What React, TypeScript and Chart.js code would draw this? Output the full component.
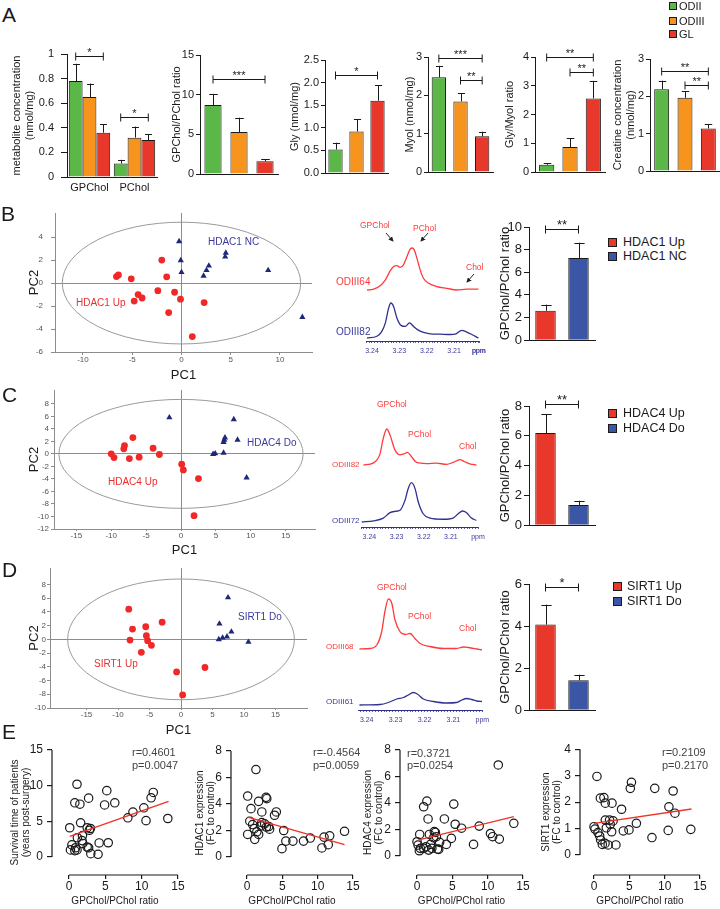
import React, { useEffect, useRef } from "react";
import { Chart, registerables } from "chart.js";

Chart.register(...registerables);

const SANS = "'Liberation Sans', Arial, Helvetica, sans-serif";
const NARROW = "'Liberation Sans Narrow', 'Arial Narrow', 'Liberation Sans', Arial, sans-serif";
const INK = "#1a1a1a";
const GREEN = "#5bb848";
const ORANGE = "#f7941d";
const RED = "#e8382b";
const BLUE = "#3b56a5";
const DOT_RED = "#f02828";
const TRI_NAVY = "#1f2878";
const LBL_RED = "#ee2d2d";
const LBL_BLUE = "#3a3a9e";
const SPEC_RED = "#ff3a3a";
const SPEC_BLUE = "#30308f";
const AXIS_GRAY = "#8c8c8c";
const FIT_RED = "#ee3328";

Chart.defaults.font.family = SANS;

// ---------------- Panel A data ----------------
const gradeNames = ["ODII", "ODIII", "GL"];
const gradeColors = [GREEN, ORANGE, RED];
const metaboliteCats = ["GPChol", "PChol"];
const metaboliteODII = [0.78, 0.11];
const metaboliteODIII = [0.65, 0.32];
const metaboliteGL = [0.36, 0.3];
const metaboliteODIIErr = [0.14, 0.03];
const metaboliteODIIIErr = [0.11, 0.09];
const metaboliteGLErr = [0.07, 0.05];
const metaboliteTicks = [0, 0.2, 0.4, 0.6, 0.8, 1];

const ratioByGrade = [8.7, 5.3, 1.6];
const ratioByGradeErr = [1.4, 1.8, 0.25];
const ratioTicks = [0, 5, 10, 15];

const glyByGrade = [0.52, 0.92, 1.6];
const glyByGradeErr = [0.15, 0.27, 0.34];
const glyTicks = [0, 0.5, 1, 1.5, 2, 2.5];

const myolByGrade = [2.47, 1.84, 0.93];
const myolByGradeErr = [0.3, 0.21, 0.12];
const myolTicks = [0, 1, 2, 3];

const glyMyolByGrade = [0.25, 0.87, 2.56];
const glyMyolByGradeErr = [0.06, 0.31, 0.61];
const glyMyolTicks = [0, 1, 2, 3, 4];

const creatineByGrade = [2.19, 1.96, 1.14];
const creatineByGradeErr = [0.23, 0.17, 0.12];
const creatineTicks = [0, 1, 2, 3];

// significance brackets: [dataset, index] -> [dataset, index] at value
const metaboliteSig = [
  { from: [0, 0], to: [2, 0], at: 0.98, mark: "*" },
  { from: [0, 1], to: [2, 1], at: 0.49, mark: "*" },
];
const ratioSig = [{ from: [0, 0], to: [0, 2], at: 12.0, mark: "***" }];
const glySig = [{ from: [0, 0], to: [0, 2], at: 2.17, mark: "*" }];
const myolSig = [
  { from: [0, 0], to: [0, 2], at: 2.98, mark: "***" },
  { from: [0, 1], to: [0, 2], at: 2.39, mark: "**" },
];
const glyMyolSig = [
  { from: [0, 0], to: [0, 2], at: 4.0, mark: "**" },
  { from: [0, 1], to: [0, 2], at: 3.48, mark: "**" },
];
const creatineSig = [
  { from: [0, 0], to: [0, 2], at: 2.69, mark: "**" },
  { from: [0, 1], to: [0, 2], at: 2.3, mark: "**" },
];

// ---------------- Panels B-D data ----------------
const hdac1Groups = ["HDAC1 Up", "HDAC1 NC"];
const hdac1Ratio = [2.6, 7.26];
const hdac1RatioErr = [0.54, 1.36];
const hdac1Ticks = [0, 2, 4, 6, 8, 10];
const hdac1Sig = [{ from: [0, 0], to: [0, 1], at: 9.8, mark: "**" }];

const hdac4Groups = ["HDAC4 Up", "HDAC4 Do"];
const hdac4Ratio = [6.18, 1.36];
const hdac4RatioErr = [1.28, 0.28];
const hdac4Ticks = [0, 2, 4, 6, 8];
const hdac4Sig = [{ from: [0, 0], to: [0, 1], at: 8.15, mark: "**" }];

const sirt1Groups = ["SIRT1 Up", "SIRT1 Do"];
const sirt1Ratio = [4.07, 1.42];
const sirt1RatioErr = [0.95, 0.27];
const sirt1Ticks = [0, 2, 4, 6];
const sirt1Sig = [{ from: [0, 0], to: [0, 1], at: 5.85, mark: "*" }];

// PCA scores [PC1, PC2]
const hdac1UpScores = [[-6.6, 0.57], [-6.4, 0.71], [-5.1, 0.37], [-2.0, 2.0], [-1.5, 0.54], [-2.4, -0.66], [-4.4, -1.0], [-4.8, -1.57], [-4.0, -1.3], [-0.7, -0.8], [-0.1, -1.4], [-1.3, -2.57], [2.3, -1.7], [1.1, -4.66]];
const hdac1NcScores = [[-0.24, 3.63], [-0.07, 1.97], [0.0, 0.94], [2.24, 0.63], [2.54, 1.11], [2.78, 1.51], [4.5, 2.63], [4.44, 2.29], [8.8, 1.11], [12.27, -2.97]];
const hdac1Ellipse = [12.1, 5.3];
const pcaBxTicks = [-10, -5, 0, 5, 10];
const pcaByTicks = [-6, -4, -2, 0, 2, 4];

const hdac4UpScores = [[-10.0, 0.0], [-9.6, -0.6], [-8.1, 1.33], [-8.2, 0.8], [-6.9, 2.6], [-7.4, -0.75], [-6.0, -0.53], [-4.0, 0.9], [-3.1, -0.1], [0.1, -1.65], [0.33, -2.56], [2.5, -3.95], [1.87, -9.87]];
const hdac4DoScores = [[-1.67, 5.8], [7.56, 5.5], [6.3, 2.6], [6.2, 2.24], [6.1, 1.87], [8.1, 2.24], [4.6, -0.05], [4.9, 0.05], [6.1, 0.16], [9.4, -3.8]];
const hdac4Ellipse = [17.5, 8.7];
const pcaCxTicks = [-15, -10, -5, 0, 5, 10, 15];
const pcaCyTicks = [-12, -10, -8, -6, -4, -2, 0, 2, 4, 6, 8];

const sirt1UpScores = [[-8.3, 4.4], [-7.7, 1.5], [-8.1, -0.1], [-5.6, 1.84], [-5.5, 0.53], [-5.3, -0.19], [-4.7, -0.87], [-6.3, -1.89], [-3.0, 2.5], [-0.7, -4.74], [3.8, -4.1], [0.26, -8.1]];
const sirt1DoScores = [[7.46, 6.1], [6.1, 2.27], [8.0, 1.1], [6.0, 0.0], [6.6, 0.24], [7.3, 0.39], [10.7, -0.39]];
const sirt1Ellipse = [18.0, 8.8];
const pcaDxTicks = [-15, -10, -5, 0, 5, 10, 15];
const pcaDyTicks = [-10, -8, -6, -4, -2, 0, 2, 4, 6, 8];

// 1H spectra (ppm, relative intensity)
const ppmMajorTicks = [3.24, 3.23, 3.22, 3.21];
const odiii64Ppm = [3.2418, 3.2394, 3.237, 3.2351, 3.2333, 3.2321, 3.2309, 3.2297, 3.2285, 3.2272, 3.226, 3.2253, 3.2246, 3.2236, 3.2224, 3.2212, 3.2193, 3.2163, 3.2127, 3.209, 3.2054, 3.2029, 3.2011];
const odiii64Int = [0, 0.02, 0.1, 0.24, 0.46, 0.56, 0.58, 0.54, 0.6, 0.8, 0.98, 1.0, 0.96, 0.76, 0.48, 0.28, 0.16, 0.08, 0.04, 0.0, 0.02, 0.02, 0.02];
const odiii82bPpm = [3.2418, 3.2382, 3.2364, 3.2351, 3.2339, 3.2331, 3.2321, 3.2309, 3.2294, 3.2278, 3.2263, 3.2248, 3.2234, 3.2212, 3.2187, 3.2151, 3.2114, 3.2096, 3.2072, 3.2054, 3.2035, 3.2011];
const odiii82bInt = [0, 0.05, 0.19, 0.43, 0.86, 1.0, 0.9, 0.57, 0.36, 0.33, 0.43, 0.33, 0.24, 0.16, 0.12, 0.11, 0.1, 0.11, 0.22, 0.17, 0.1, 0.0];

const odiii82cPpm = [3.2422, 3.2385, 3.2361, 3.2349, 3.2336, 3.2324, 3.2306, 3.2287, 3.2273, 3.226, 3.2245, 3.2226, 3.2189, 3.2153, 3.2116, 3.2092, 3.2067, 3.2049, 3.203, 3.2006];
const odiii82cInt = [0, 0.06, 0.31, 0.74, 1.0, 0.83, 0.42, 0.28, 0.31, 0.35, 0.23, 0.07, 0.04, 0.05, 0.02, 0.07, 0.15, 0.09, 0.03, 0.0];
const odiii72Ppm = [3.2428, 3.2385, 3.2349, 3.2324, 3.2306, 3.2287, 3.2269, 3.2257, 3.2245, 3.2232, 3.222, 3.2202, 3.2177, 3.2128, 3.2092, 3.2073, 3.2057, 3.2043, 3.2024, 3.2006];
const odiii72Int = [0, 0.03, 0.1, 0.24, 0.27, 0.3, 0.55, 0.85, 1.0, 0.85, 0.51, 0.21, 0.1, 0.07, 0.1, 0.21, 0.28, 0.24, 0.1, 0.04];

const odiii68Ppm = [3.2425, 3.2388, 3.2365, 3.2348, 3.2337, 3.2325, 3.2313, 3.2302, 3.2285, 3.2267, 3.225, 3.2233, 3.2215, 3.2181, 3.2135, 3.2089, 3.2066, 3.2048, 3.2019, 3.2001];
const odiii68Int = [0, 0.01, 0.08, 0.35, 0.75, 1.0, 0.91, 0.58, 0.35, 0.29, 0.31, 0.21, 0.11, 0.05, 0.01, 0.01, 0.04, 0.03, 0.0, -0.02];
const odiii61Ppm = [3.2425, 3.2354, 3.2325, 3.2296, 3.2273, 3.2256, 3.2239, 3.2225, 3.2204, 3.2169, 3.2123, 3.2089, 3.2071, 3.2054, 3.2037, 3.2019, 3.2001];
const odiii61Int = [0, 0.01, 0.05, 0.12, 0.15, 0.2, 0.25, 0.22, 0.12, 0.07, 0.04, 0.05, 0.1, 0.13, 0.11, 0.08, 0.07];

// ---------------- Panel E data [GPChol/PChol ratio, y] ----------------
const corrXTicks = [0, 5, 10, 15];
const survivalPoints = [[1.1, 10.2], [0.8, 7.6], [1.5, 7.4], [2.7, 8.25], [5.2, 9.3], [4.9, 7.3], [6.3, 7.6], [1.6, 4.8], [0.1, 4.1], [2.5, 4.1], [2.8, 3.75], [2.95, 4.0], [1.15, 2.7], [1.85, 3.0], [1.8, 2.3], [1.9, 1.9], [0.4, 1.7], [0.9, 1.3], [0.2, 1.0], [0.8, 0.9], [1.1, 1.0], [2.5, 1.4], [2.7, 1.3], [3.0, 0.47], [4.0, 0.38], [4.15, 1.97], [5.4, 2.0], [8.1, 5.5], [8.8, 6.3], [10.3, 6.9], [10.6, 5.1], [11.3, 8.3], [11.6, 9.05], [13.6, 5.4]];
const survivalFit = [[0.1, 2.9], [13.7, 7.8]];
const survivalYTicks = [0, 5, 10, 15];

const hdac1ExprPoints = [[1.27, 6.6], [0.1, 4.6], [0.57, 3.65], [1.65, 4.2], [2.7, 4.5], [2.8, 4.4], [2.1, 3.4], [4.15, 3.4], [3.9, 3.15], [0.4, 2.7], [0.8, 2.45], [1.04, 2.14], [1.4, 1.9], [1.1, 1.33], [1.65, 1.7], [2.0, 2.35], [2.1, 2.6], [2.5, 2.5], [2.74, 2.26], [3.07, 2.3], [3.2, 2.1], [0.1, 1.7], [5.2, 2.0], [5.5, 1.2], [4.95, 0.63], [6.5, 1.2], [8.0, 1.2], [8.96, 1.43], [10.6, 0.68], [10.9, 1.5], [11.5, 0.93], [11.7, 1.6], [13.8, 1.94]];
const hdac1ExprFit = [[0.1, 3.0], [13.8, 0.93]];
const hdac1ExprYTicks = [0, 2, 4, 6, 8];

const hdac4ExprPoints = [[11.5, 6.87], [1.4, 4.15], [0.94, 3.72], [5.2, 3.92], [1.56, 2.8], [3.87, 2.8], [5.4, 2.4], [6.3, 2.1], [8.8, 2.26], [13.7, 2.47], [10.4, 1.7], [10.7, 1.46], [11.65, 1.28], [8.0, 0.88], [4.86, 1.33], [4.15, 0.88], [0.38, 1.63], [1.75, 1.63], [2.45, 1.84], [2.6, 1.78], [2.74, 1.46], [0.0, 1.08], [0.14, 0.83], [0.47, 0.58], [0.33, 0.4], [0.94, 0.58], [1.27, 0.7], [1.9, 0.88], [1.65, 0.45], [2.1, 0.58], [2.9, 0.53], [2.36, 1.38], [3.2, 1.03], [3.07, 0.5]];
const hdac4ExprFit = [[0.1, 1.2], [13.7, 2.97]];
const hdac4ExprYTicks = [0, 2, 4, 6, 8];

const sirt1ExprPoints = [[0.42, 2.97], [0.9, 2.15], [1.4, 2.17], [1.6, 1.96], [2.55, 1.96], [3.9, 1.73], [5.3, 2.75], [5.14, 2.52], [8.6, 2.52], [11.2, 2.42], [10.6, 1.82], [11.45, 1.58], [6.0, 1.2], [1.6, 1.32], [2.2, 1.32], [2.7, 1.29], [2.3, 1.16], [1.75, 1.03], [2.5, 0.88], [0.0, 1.07], [0.14, 0.98], [0.56, 0.85], [0.8, 0.72], [0.94, 0.57], [1.18, 0.4], [1.56, 0.44], [2.0, 0.38], [3.1, 0.38], [4.15, 0.91], [4.95, 0.95], [8.2, 0.66], [10.5, 0.93], [13.7, 0.97]];
const sirt1ExprFit = [[0.0, 1.2], [13.8, 1.74]];
const sirt1ExprYTicks = [0, 1, 2, 3, 4];

// ---------------- helpers ----------------
type Rect = { x: number; y: number; w: number; h: number };
type Area = { l: number; t: number; r: number; b: number };

function frame(c: Rect, a: Area) {
  return { left: a.l - c.x, top: a.t - c.y, right: c.x + c.w - a.r, bottom: c.y + c.h - a.b };
}

const baseOptions = {
  animation: false,
  responsive: false,
  maintainAspectRatio: false,
  events: [],
  plugins: { legend: { display: false }, tooltip: { enabled: false } },
};

const errorBarPlugin = {
  id: "errbars",
  afterDatasetsDraw(chart: any) {
    const ctx = chart.ctx;
    const ys = chart.scales.y;
    chart.data.datasets.forEach((ds: any, di: number) => {
      if (!ds.errUp) return;
      const meta = chart.getDatasetMeta(di);
      meta.data.forEach((bar: any, i: number) => {
        const top = ys.getPixelForValue(ds.data[i] + ds.errUp[i]);
        const x = Math.round(bar.x) + 0.5;
        const w = bar.width * 0.5;
        ctx.save();
        ctx.strokeStyle = INK;
        ctx.lineWidth = 1;
        ctx.beginPath();
        ctx.moveTo(x, bar.y);
        ctx.lineTo(x, top);
        ctx.moveTo(x - w / 2, Math.round(top) + 0.5);
        ctx.lineTo(x + w / 2, Math.round(top) + 0.5);
        ctx.stroke();
        ctx.restore();
      });
    });
  },
};

function sigPlugin(items: any[], size: number) {
  return {
    id: "sig",
    afterDatasetsDraw(chart: any) {
      const ctx = chart.ctx;
      const ys = chart.scales.y;
      ctx.save();
      ctx.strokeStyle = INK;
      ctx.fillStyle = INK;
      ctx.lineWidth = 1;
      ctx.font = `${size}px ${SANS}`;
      ctx.textAlign = "center";
      ctx.textBaseline = "alphabetic";
      for (const it of items) {
        const xa = chart.getDatasetMeta(it.from[0]).data[it.from[1]].x;
        const xb = chart.getDatasetMeta(it.to[0]).data[it.to[1]].x;
        const y = Math.round(ys.getPixelForValue(it.at)) + 0.5;
        ctx.beginPath();
        ctx.moveTo(xa, y);
        ctx.lineTo(xb, y);
        ctx.moveTo(xa, y - 4);
        ctx.lineTo(xa, y + 4);
        ctx.moveTo(xb, y - 4);
        ctx.lineTo(xb, y + 4);
        ctx.stroke();
        ctx.fillText(it.mark, (xa + xb) / 2, y - 1);
      }
      ctx.restore();
    },
  };
}

function ellipsePlugin(r: number[]) {
  return {
    id: "ellipse",
    beforeDatasetsDraw(chart: any) {
      const { x, y } = chart.scales;
      const ctx = chart.ctx;
      const cx = x.getPixelForValue(0);
      const cy = y.getPixelForValue(0);
      const rx = Math.abs(x.getPixelForValue(r[0]) - cx);
      const ry = Math.abs(y.getPixelForValue(r[1]) - cy);
      ctx.save();
      ctx.strokeStyle = "#9a9a9a";
      ctx.lineWidth = 1;
      ctx.beginPath();
      ctx.ellipse(cx, cy, rx, ry, 0, 0, Math.PI * 2);
      ctx.stroke();
      ctx.restore();
    },
  };
}

function offsetAxesPlugin(xt: number[], yt: number[]) {
  return {
    id: "offsetAxes",
    beforeDatasetsDraw(chart: any) {
      const { x, y } = chart.scales;
      const a = chart.chartArea;
      const ctx = chart.ctx;
      ctx.save();
      ctx.strokeStyle = INK;
      ctx.lineWidth = 1.2;
      ctx.beginPath();
      ctx.moveTo(x.getPixelForValue(xt[0]), a.bottom);
      ctx.lineTo(x.getPixelForValue(xt[xt.length - 1]), a.bottom);
      ctx.moveTo(a.left, y.getPixelForValue(yt[0]));
      ctx.lineTo(a.left, y.getPixelForValue(yt[yt.length - 1]));
      ctx.stroke();
      ctx.restore();
    },
  };
}

const setTicks = (vals: number[]) => (s: any) => {
  s.ticks = vals.map((v) => ({ value: v }));
};

function barConfig(o: any) {
  const f = frame(o.rect, o.area);
  return {
    type: "bar",
    data: {
      labels: o.labels,
      datasets: o.series.map((s: any) => ({
        data: s.data,
        errUp: s.err,
        backgroundColor: s.color,
        borderColor: INK,
        borderWidth: 1,
        barPercentage: o.barPct,
        categoryPercentage: o.catPct,
      })),
    },
    options: {
      ...baseOptions,
      layout: { autoPadding: false, padding: { left: 0, top: f.top, right: f.right, bottom: 0 } },
      scales: {
        x: {
          grid: { display: false, drawTicks: false },
          border: { color: INK, width: 1 },
          ticks: { display: !!o.showX, color: INK, font: { family: SANS, size: 11 }, padding: 4 },
          afterFit: (s: any) => {
            s.height = f.bottom;
          },
        },
        y: {
          min: o.ticks[0],
          max: o.ticks[o.ticks.length - 1],
          afterBuildTicks: setTicks(o.ticks),
          ticks: { color: INK, font: { family: SANS, size: o.tickSize }, padding: o.tickPad, callback: (v: number) => o.fmt(v) },
          grid: { drawOnChartArea: false, tickLength: o.tickLen, tickColor: INK },
          border: { color: INK, width: 1 },
          title: {
            display: true,
            text: o.yTitle,
            color: INK,
            font: { family: SANS, size: o.titleSize, lineHeight: 1.2 },
            padding: { top: 4, bottom: 0 },
          },
          afterFit: (s: any) => {
            s.width = f.left;
          },
        },
      },
    },
    plugins: [errorBarPlugin, sigPlugin(o.sig, o.starSize)],
  };
}

function pcaConfig(o: any) {
  const f = frame(o.rect, o.area);
  const zeroLine = (c: any) => (c.tick && Math.abs(c.tick.value) < 1e-9 ? AXIS_GRAY : "rgba(0,0,0,0)");
  return {
    type: "scatter",
    data: {
      datasets: [
        {
          data: o.up.map((p: number[]) => ({ x: p[0], y: p[1] })),
          pointStyle: "circle",
          pointRadius: 3.4,
          backgroundColor: DOT_RED,
          borderColor: DOT_RED,
          borderWidth: 0,
        },
        {
          data: o.down.map((p: number[]) => ({ x: p[0], y: p[1] })),
          pointStyle: "triangle",
          pointRadius: 3.6,
          backgroundColor: TRI_NAVY,
          borderColor: TRI_NAVY,
          borderWidth: 0,
        },
      ],
    },
    options: {
      ...baseOptions,
      layout: { autoPadding: false, padding: { left: 0, top: f.top, right: f.right, bottom: 0 } },
      scales: {
        x: {
          type: "linear",
          min: o.xRange[0],
          max: o.xRange[1],
          afterBuildTicks: setTicks(o.xTicks),
          ticks: { color: "#555", font: { family: SANS, size: 8 }, padding: 0, callback: (v: number) => String(v) },
          grid: { color: zeroLine, tickColor: AXIS_GRAY, tickLength: o.xTickLen, lineWidth: 1 },
          border: { color: AXIS_GRAY, width: 1 },
          title: { display: true, text: "PC1", color: INK, font: { family: SANS, size: 13 }, padding: { top: 0, bottom: 4 } },
          afterFit: (s: any) => {
            s.height = f.bottom;
          },
        },
        y: {
          type: "linear",
          min: o.yRange[0],
          max: o.yRange[1],
          afterBuildTicks: setTicks(o.yTicks),
          ticks: { color: "#555", font: { family: SANS, size: 8 }, padding: o.yTickPad, callback: (v: number) => String(v) },
          grid: { color: zeroLine, tickColor: AXIS_GRAY, tickLength: o.yTickLen, lineWidth: 1 },
          border: { color: AXIS_GRAY, width: 1 },
          title: { display: true, text: "PC2", color: INK, font: { family: SANS, size: 13 }, padding: { top: 4, bottom: 0 } },
          afterFit: (s: any) => {
            s.width = f.left;
          },
        },
      },
    },
    plugins: [ellipsePlugin(o.ellipse)],
  };
}

function spectrumConfig(o: any) {
  const f = frame(o.rect, o.area);
  const xy = (p: number[], v: number[]) => p.map((x, i) => ({ x, y: v[i] }));
  const [lo, hi] = o.range;
  const tickVals: number[] = [];
  for (let k = Math.ceil(lo * 1000 - 1e-6); k <= Math.floor(hi * 1000 + 1e-6); k++) tickVals.push(k / 1000);
  if (Math.abs(tickVals[0] - lo) > 1e-6) tickVals.unshift(lo);
  const label = (v: number) => {
    if (Math.abs(v - lo) < 2e-4) return "ppm";
    const m = ppmMajorTicks.find((t) => Math.abs(t - v) < 1e-6);
    return m !== undefined ? m.toFixed(2) : "";
  };
  const line = (color: string) => ({
    borderColor: color,
    borderWidth: 1.3,
    pointRadius: 0,
    cubicInterpolationMode: "monotone",
    fill: false,
  });
  return {
    type: "line",
    data: {
      datasets: [
        { ...line(SPEC_RED), data: xy(o.topPpm, o.topInt), yAxisID: "yTop" },
        { ...line(SPEC_BLUE), data: xy(o.botPpm, o.botInt), yAxisID: "yBot" },
      ],
    },
    options: {
      ...baseOptions,
      layout: { autoPadding: false, padding: { left: f.left, top: f.top, right: f.right, bottom: 0 } },
      scales: {
        x: {
          type: "linear",
          reverse: true,
          min: lo,
          max: hi,
          afterBuildTicks: setTicks(tickVals),
          ticks: {
            autoSkip: false,
            maxRotation: 0,
            minRotation: 0,
            color: LBL_BLUE,
            font: { family: NARROW, size: 7 },
            padding: 4,
            callback: (v: number) => label(v),
          },
          grid: { drawOnChartArea: false, tickLength: 2, tickColor: SPEC_BLUE, lineWidth: 0.8 },
          border: { color: SPEC_BLUE, width: 1 },
          afterFit: (s: any) => {
            s.height = f.bottom;
          },
        },
        yTop: { display: false, min: o.topRange[0], max: o.topRange[1] },
        yBot: { display: false, min: o.botRange[0], max: o.botRange[1] },
      },
    },
  };
}

function corrConfig(o: any) {
  const f = frame(o.rect, o.area);
  return {
    type: "scatter",
    data: {
      datasets: [
        {
          type: "line",
          data: o.fit.map((p: number[]) => ({ x: p[0], y: p[1] })),
          borderColor: FIT_RED,
          borderWidth: 1.3,
          pointRadius: 0,
          fill: false,
        },
        {
          data: o.points.map((p: number[]) => ({ x: p[0], y: p[1] })),
          pointRadius: 4.2,
          borderWidth: 1.2,
          borderColor: INK,
          backgroundColor: "rgba(255,255,255,0)",
        },
      ],
    },
    options: {
      ...baseOptions,
      layout: { autoPadding: false, padding: { left: 0, top: f.top, right: f.right, bottom: 0 } },
      scales: {
        x: {
          type: "linear",
          min: o.xRange[0],
          max: o.xRange[1],
          afterBuildTicks: setTicks(corrXTicks),
          ticks: { color: INK, font: { family: SANS, size: 12 }, padding: 0, callback: (v: number) => String(v) },
          grid: { drawOnChartArea: false, tickLength: 4, tickColor: INK, lineWidth: 1.2 },
          border: { display: false },
          title: {
            display: true,
            text: "GPChol/PChol ratio",
            color: INK,
            font: { family: SANS, size: 10 },
            padding: { top: 0, bottom: 2 },
          },
          afterFit: (s: any) => {
            s.height = f.bottom;
          },
        },
        y: {
          type: "linear",
          min: o.yRange[0],
          max: o.yTicks[o.yTicks.length - 1],
          afterBuildTicks: setTicks(o.yTicks),
          ticks: { color: INK, font: { family: SANS, size: 12 }, padding: 4, callback: (v: number) => String(v) },
          grid: { drawOnChartArea: false, tickLength: 5, tickColor: INK, lineWidth: 1.2 },
          border: { display: false },
          title: {
            display: true,
            text: o.yTitle,
            color: INK,
            font: { family: SANS, size: 10, lineHeight: 1.1 },
            padding: { top: 4, bottom: 0 },
          },
          afterFit: (s: any) => {
            s.width = f.left;
          },
        },
      },
    },
    plugins: [offsetAxesPlugin(corrXTicks, o.yTicks)],
  };
}

function ChartBox({ rect, build }: { rect: Rect; build: () => any }) {
  const ref = useRef<HTMLCanvasElement>(null);
  useEffect(() => {
    const chart = new Chart(ref.current as HTMLCanvasElement, build());
    return () => chart.destroy();
  }, []);
  return (
    <canvas
      ref={ref}
      width={rect.w}
      height={rect.h}
      style={{ position: "absolute", left: rect.x, top: rect.y, width: rect.w, height: rect.h }}
    />
  );
}

function Txt({ x, y, size, color = INK, family = SANS, children }: any) {
  return (
    <div
      style={{
        position: "absolute",
        left: x,
        top: y - size * 0.59,
        fontSize: size,
        lineHeight: 1.2,
        color,
        fontFamily: family,
        whiteSpace: "nowrap",
      }}
    >
      {children}
    </div>
  );
}

function Swatch({ x, y, s, color }: any) {
  return (
    <div
      style={{
        position: "absolute",
        left: x,
        top: y,
        width: s,
        height: s,
        boxSizing: "border-box",
        border: `1px solid ${INK}`,
        background: color,
      }}
    />
  );
}

const fmt1 = (v: number) => (v === 0 || v === 1 ? String(v) : v.toFixed(1));
const fmtFixed1 = (v: number) => v.toFixed(1);
const fmtInt = (v: number) => String(v);

const gradeSeries = (data: number[], err: number[]) => [{ data, err, color: gradeColors }];

// ---------------- chart builders ----------------
function gradeBar(rect: Rect, area: Area, series: any[], labels: string[], ticks: number[], fmt: any, yTitle: any, tickLen: number, tickPad: number, showX: boolean, barPct: number, catPct: number, sig: any[]) {
  return {
    rect,
    build: () =>
      barConfig({ rect, area, labels, series, ticks, fmt, yTitle, titleSize: 11, tickSize: 11, tickLen, tickPad, showX, barPct, catPct, sig, starSize: 11 }),
  };
}

const chartsA = [
  gradeBar(
    { x: 6, y: 38, w: 156, h: 162 },
    { l: 67, t: 54, r: 157, b: 177 },
    [
      { data: metaboliteODII, err: metaboliteODIIErr, color: GREEN },
      { data: metaboliteODIII, err: metaboliteODIIIErr, color: ORANGE },
      { data: metaboliteGL, err: metaboliteGLErr, color: RED },
    ],
    metaboliteCats, metaboliteTicks, fmt1, ["metabolite concentration", "(nmol/mg)"], 6, 7, true, 1, 0.92, metaboliteSig
  ),
  gradeBar({ x: 166, y: 38, w: 116, h: 162 }, { l: 200, t: 55, r: 278, b: 174 }, gradeSeries(ratioByGrade, ratioByGradeErr), gradeNames, ratioTicks, fmtInt, "GPChol/PChol ratio", 4, 2, false, 0.66, 1, ratioSig),
  gradeBar({ x: 284, y: 38, w: 106, h: 162 }, { l: 325, t: 60, r: 388, b: 173 }, gradeSeries(glyByGrade, glyByGradeErr), gradeNames, glyTicks, fmtFixed1, "Gly (nmol/mg)", 4, 2, false, 0.68, 1, glySig),
  gradeBar({ x: 399, y: 38, w: 96, h: 162 }, { l: 428, t: 57, r: 493, b: 172 }, gradeSeries(myolByGrade, myolByGradeErr), gradeNames, myolTicks, fmtInt, "Myol (nmol/mg)", 4, 2, false, 0.66, 1, myolSig),
  gradeBar({ x: 499, y: 38, w: 108, h: 162 }, { l: 535, t: 57, r: 605, b: 172 }, gradeSeries(glyMyolByGrade, glyMyolByGradeErr), gradeNames, glyMyolTicks, fmtInt, "Gly/Myol ratio", 4, 2, false, 0.65, 1, glyMyolSig),
  gradeBar({ x: 607, y: 38, w: 113, h: 162 }, { l: 650, t: 59, r: 720, b: 171 }, gradeSeries(creatineByGrade, creatineByGradeErr), gradeNames, creatineTicks, fmtInt, ["Creatine concentration", "(nmol/mg)"], 4, 2, false, 0.64, 1, creatineSig),
];

function ratioBar(rect: Rect, area: Area, labels: string[], data: number[], err: number[], ticks: number[], sig: any[]) {
  return {
    rect,
    build: () =>
      barConfig({
        rect,
        area,
        labels,
        series: [{ data, err, color: [RED, BLUE] }],
        ticks,
        fmt: fmtInt,
        yTitle: "GPChol/PChol ratio",
        titleSize: 13,
        tickSize: 13,
        tickLen: 5,
        tickPad: 2,
        showX: false,
        barPct: 0.62,
        catPct: 1,
        sig,
        starSize: 13,
      }),
  };
}

function pca(rect: Rect, area: Area, up: number[][], down: number[][], ellipse: number[], xRange: number[], yRange: number[], xTicks: number[], yTicks: number[], xTickLen: number, yTickLen: number, yTickPad: number) {
  return { rect, build: () => pcaConfig({ rect, area, up, down, ellipse, xRange, yRange, xTicks, yTicks, xTickLen, yTickLen, yTickPad }) };
}

function spectrum(rect: Rect, area: Area, range: number[], topPpm: number[], topInt: number[], botPpm: number[], botInt: number[], topRange: number[], botRange: number[]) {
  return { rect, build: () => spectrumConfig({ rect, area, range, topPpm, topInt, botPpm, botInt, topRange, botRange }) };
}

const chartsBD = [
  pca({ x: 23, y: 200, w: 297, h: 187 }, { l: 55, t: 213, r: 312, b: 352 }, hdac1UpScores, hdac1NcScores, hdac1Ellipse, [-12.84, 13.25], [-6, 6.1], pcaBxTicks, pcaByTicks, 3, 4, 8),
  pca({ x: 23, y: 380, w: 297, h: 182 }, { l: 54, t: 390, r: 315, b: 529 }, hdac4UpScores, hdac4DoScores, hdac4Ellipse, [-18.2, 19.2], [-12, 10.2], pcaCxTicks, pcaCyTicks, 2, 3, 2),
  pca({ x: 23, y: 560, w: 292, h: 182 }, { l: 50, t: 568, r: 307, b: 708 }, sirt1UpScores, sirt1DoScores, sirt1Ellipse, [-20.8, 20.0], [-10, 10.4], pcaDxTicks, pcaDyTicks, 2, 3, 1),
  spectrum({ x: 330, y: 200, w: 160, h: 165 }, { l: 366.5, t: 240, r: 479, b: 341 }, [3.2009, 3.242], odiii64Ppm, odiii64Int, odiii82bPpm, odiii82bInt, [-1.214, 1.19], [-0.086, 2.8]),
  spectrum({ x: 330, y: 380, w: 160, h: 170 }, { l: 361, t: 420, r: 478, b: 527 }, [3.2, 3.2431], odiii82cPpm, odiii82cInt, odiii72Ppm, odiii72Int, [-1.722, 1.25], [-0.127, 2.595]),
  spectrum({ x: 330, y: 560, w: 160, h: 180 }, { l: 358.6, t: 590, r: 482.3, b: 710 }, [3.2, 3.2428], odiii68Ppm, odiii68Int, odiii61Ppm, odiii61Int, [-1.22, 1.18], [-0.1, 2.3]),
  ratioBar({ x: 494, y: 200, w: 110, h: 150 }, { l: 529, t: 227, r: 595, b: 342 }, hdac1Groups, hdac1Ratio, hdac1RatioErr, hdac1Ticks, hdac1Sig),
  ratioBar({ x: 494, y: 385, w: 110, h: 150 }, { l: 529, t: 406, r: 595, b: 527 }, hdac4Groups, hdac4Ratio, hdac4RatioErr, hdac4Ticks, hdac4Sig),
  ratioBar({ x: 494, y: 565, w: 110, h: 155 }, { l: 529, t: 584, r: 595, b: 711 }, sirt1Groups, sirt1Ratio, sirt1RatioErr, sirt1Ticks, sirt1Sig),
];

function corr(rect: Rect, area: Area, points: number[][], fit: number[][], yTicks: number[], xRange: number[], yMin: number, yTitle: string[]) {
  return {
    rect,
    build: () => corrConfig({ rect, area, points, fit, yTicks, xRange, yRange: [yMin], yTitle }),
  };
}

const chartsE = [
  corr({ x: 6, y: 738, w: 180, h: 171 }, { l: 52, t: 750, r: 178, b: 875 }, survivalPoints, survivalFit, survivalYTicks, [-2.34, 15], -2.52, ["Survival time of patients", "(years post-surgery)"]),
  corr({ x: 191, y: 738, w: 170, h: 171 }, { l: 231, t: 751, r: 353, b: 875 }, hdac1ExprPoints, hdac1ExprFit, hdac1ExprYTicks, [-2.26, 15], -1.36, ["HDAC1 expression", "(FC to control)"]),
  corr({ x: 359, y: 738, w: 171, h: 171 }, { l: 400, t: 750, r: 523, b: 875 }, hdac4ExprPoints, hdac4ExprFit, hdac4ExprYTicks, [-2.41, 15], -1.43, ["HDAC4 expression", "(FC to control)"]),
  corr({ x: 537, y: 738, w: 175, h: 171 }, { l: 580, t: 749, r: 700, b: 875 }, sirt1ExprPoints, sirt1ExprFit, sirt1ExprYTicks, [-1.98, 15], -0.755, ["SIRT1 expression", "(FC to control)"]),
];

const allCharts = [...chartsA, ...chartsBD, ...chartsE];

export default function App() {
  return (
    <div style={{ position: "relative", width: 720, height: 909, overflow: "hidden", background: "#fff", fontFamily: SANS }}>
      <style>{"html,body{margin:0;padding:0;background:#fff}"}</style>
      {allCharts.map((c, i) => (
        <ChartBox key={i} rect={c.rect} build={c.build} />
      ))}

      {/* panel letters */}
      <Txt x={2} y={14} size={21}>A</Txt>
      <Txt x={1} y={213} size={21}>B</Txt>
      <Txt x={2} y={394} size={21}>C</Txt>
      <Txt x={2} y={569} size={21}>D</Txt>
      <Txt x={2} y={731} size={21}>E</Txt>

      {/* Panel A legend */}
      {gradeNames.map((g, i) => (
        <React.Fragment key={g}>
          <Swatch x={669} y={[2, 17, 30][i]} s={8} color={gradeColors[i]} />
          <Txt x={679} y={[6, 21, 34][i]} size={11}>{g}</Txt>
        </React.Fragment>
      ))}

      {/* B-D legends */}
      <Swatch x={608} y={238} s={9} color={RED} />
      <Txt x={623} y={242.5} size={12.5}>{hdac1Groups[0]}</Txt>
      <Swatch x={608} y={252} s={9} color={BLUE} />
      <Txt x={623} y={256.5} size={12.5}>{hdac1Groups[1]}</Txt>

      <Swatch x={608} y={409} s={9} color={RED} />
      <Txt x={623} y={413.5} size={12.5}>{hdac4Groups[0]}</Txt>
      <Swatch x={608} y={424} s={9} color={BLUE} />
      <Txt x={623} y={428.5} size={12.5}>{hdac4Groups[1]}</Txt>

      <Swatch x={613} y={582} s={9} color={RED} />
      <Txt x={627} y={586.5} size={12.5}>{sirt1Groups[0]}</Txt>
      <Swatch x={613} y={597} s={9} color={BLUE} />
      <Txt x={627} y={601} size={12.5}>{sirt1Groups[1]}</Txt>

      {/* PCA group labels */}
      <Txt x={208} y={242} size={10} color={LBL_BLUE}>HDAC1 NC</Txt>
      <Txt x={76} y={303} size={10} color={LBL_RED}>HDAC1 Up</Txt>
      <Txt x={247} y={443} size={10} color={LBL_BLUE}>HDAC4 Do</Txt>
      <Txt x={108} y={482} size={10} color={LBL_RED}>HDAC4 Up</Txt>
      <Txt x={238} y={617} size={10} color={LBL_BLUE}>SIRT1 Do</Txt>
      <Txt x={94} y={664} size={10} color={LBL_RED}>SIRT1 Up</Txt>

      {/* spectra labels */}
      <Txt x={360} y={225} size={8.5} color={SPEC_RED}>GPChol</Txt>
      <Txt x={413} y={228} size={8.5} color={SPEC_RED}>PChol</Txt>
      <Txt x={466} y={267} size={8.5} color={SPEC_RED}>Chol</Txt>
      <Txt x={336} y={282} size={10} color={SPEC_RED} family={NARROW}>ODIII64</Txt>
      <Txt x={336} y={332} size={10} color={LBL_BLUE} family={NARROW}>ODIII82</Txt>

      <Txt x={377} y={404} size={8.5} color={SPEC_RED}>GPChol</Txt>
      <Txt x={408} y={434} size={8.5} color={SPEC_RED}>PChol</Txt>
      <Txt x={459} y={446} size={8.5} color={SPEC_RED}>Chol</Txt>
      <Txt x={332} y={465} size={8} color={SPEC_RED}>ODIII82</Txt>
      <Txt x={332} y={521} size={8} color={LBL_BLUE}>ODIII72</Txt>

      <Txt x={377} y={587} size={8.5} color={SPEC_RED}>GPChol</Txt>
      <Txt x={408} y={616} size={8.5} color={SPEC_RED}>PChol</Txt>
      <Txt x={459} y={628} size={8.5} color={SPEC_RED}>Chol</Txt>
      <Txt x={326} y={647} size={8} color={SPEC_RED}>ODIII68</Txt>
      <Txt x={326} y={702} size={8} color={LBL_BLUE}>ODIII61</Txt>

      <svg width={720} height={909} style={{ position: "absolute", left: 0, top: 0, pointerEvents: "none" }}>
        <defs>
          <marker id="ah" viewBox="0 0 6 6" refX="5" refY="3" markerWidth="5" markerHeight="5" orient="auto">
            <path d="M0,0 L6,3 L0,6 z" fill="#222" />
          </marker>
        </defs>
        <line x1={386} y1={233} x2={393} y2={241} stroke="#222" strokeWidth={1} markerEnd="url(#ah)" />
        <line x1={428} y1={233} x2={421} y2={241} stroke="#222" strokeWidth={1} markerEnd="url(#ah)" />
        <line x1={474} y1={274} x2={467} y2={282} stroke="#222" strokeWidth={1} markerEnd="url(#ah)" />
      </svg>

      {/* correlation stats */}
      <Txt x={132} y={752} size={11} color="#444">r=0.4601</Txt>
      <Txt x={132} y={765} size={11} color="#444">p=0.0047</Txt>
      <Txt x={313} y={752} size={11} color="#444">r=-0.4564</Txt>
      <Txt x={313} y={765} size={11} color="#444">p=0.0059</Txt>
      <Txt x={407} y={753} size={11} color="#444">r=0.3721</Txt>
      <Txt x={407} y={765} size={11} color="#444">p=0.0254</Txt>
      <Txt x={662} y={752} size={11} color="#444">r=0.2109</Txt>
      <Txt x={662} y={765} size={11} color="#444">p=0.2170</Txt>
    </div>
  );
}
